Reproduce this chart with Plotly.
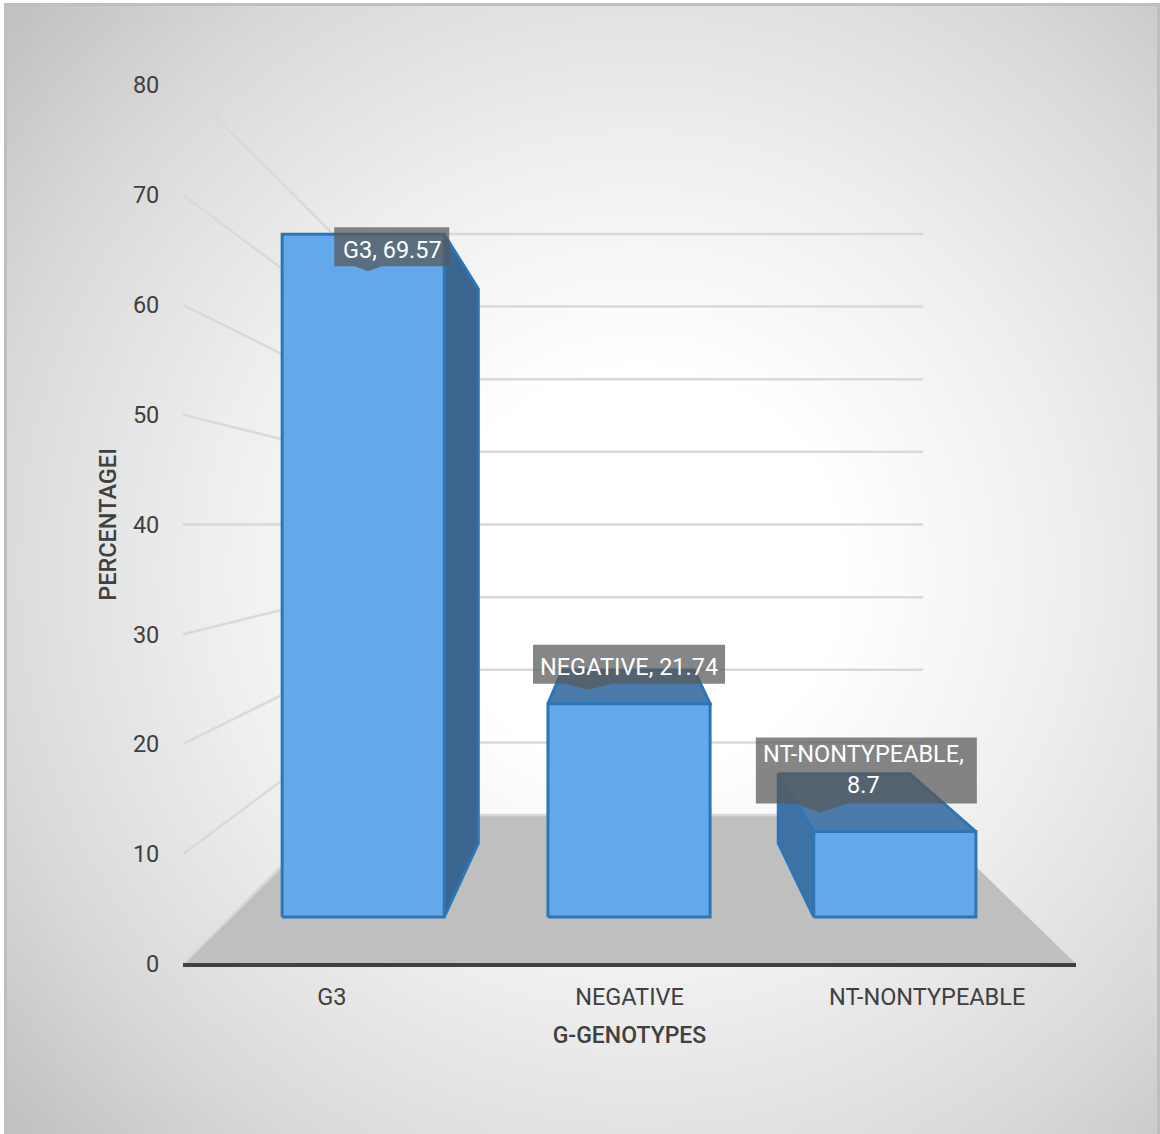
import numpy as np
import plotly.graph_objects as go

# Percentage of each G-genotype
categories = ["G3", "NEGATIVE", "NT-NONTYPEABLE"]
values = [69.57, 21.74, 8.7]
y_ticks = [0, 10, 20, 30, 40, 50, 60, 70, 80]

W, H = 1160, 1134
TEXT = "#404040"
FONT = "Roboto"

# Plot frame of the front plane, in pixels
LEFT, RIGHT, ZERO, TOP = 183, 1076, 964, 85
PX_X = (RIGHT - LEFT) / 3.0
PX_Y = (ZERO - TOP) / 80.0

# Perspective: depth scale of each plane, converging on the eye point
EYE_X, EYE_Y = 0.985, 40.0
S_FRONT, S_BAR_FRONT, S_BAR_BACK, S_WALL = 1.0, 0.893, 0.725, 0.661
BAR_HALF = 0.305


def project(x, v, s):
    """Map a category position and value at depth scale s onto the front axes."""
    return EYE_X + (x - EYE_X) * s, EYE_Y + (v - EYE_Y) * s


def poly(points, fill, line=None, width=0.0):
    pts = list(points) + [points[0]]
    return go.Scatter(
        x=[p[0] for p in pts], y=[p[1] for p in pts],
        mode="lines", fill="toself", fillcolor=fill,
        line=dict(color=line or "rgba(0,0,0,0)", width=width),
        xaxis="x2", yaxis="y2", hoverinfo="skip", showlegend=False, cliponaxis=False,
    )


fig = go.Figure()

# Radial backdrop filling the frame
NX, NY = 80, 80
cell_x = (1158 - 6) / NX
cell_y = (1134 - 6) / NY
gx = 6 + cell_x * (np.arange(NX) + 0.5)
gy = 6 + cell_y * (np.arange(NY) + 0.5)
xx, yy = np.meshgrid(gx, gy)
rr = np.hypot(xx - 640, yy - 570)
shade = np.interp(rr, [0, 200, 434, 658, 860], [255, 255, 238, 217, 190])
fig.add_trace(go.Heatmap(
    x=gx, y=gy, z=shade, zmin=0, zmax=255, zsmooth="best",
    colorscale=[[0, "#000000"], [1, "#ffffff"]], showscale=False, hoverinfo="skip",
    xaxis="x", yaxis="y",
))

# Floor
floor = [project(-0.5, 0, S_FRONT), project(-0.5, 0, S_WALL),
         project(2.5, 0, S_WALL), project(2.5, 0, S_FRONT)]
fig.add_trace(poly(floor, "#bfbfbf"))

# Gridlines on the side wall and the back wall
for t in y_ticks:
    a = project(-0.5, t, S_FRONT)
    b = project(-0.5, t, S_WALL)
    c = project(2.5, t, S_WALL)
    fig.add_trace(go.Scatter(
        x=[a[0], b[0], c[0]], y=[a[1], b[1], c[1]], mode="lines",
        line=dict(color="#d9d9d9", width=2.5),
        xaxis="x2", yaxis="y2", hoverinfo="skip", showlegend=False, cliponaxis=False,
    ))

# Bars: visible side and top first, then the front face
EDGE = "#2e75b6"
for i, v in enumerate(values):
    l, r = i - BAR_HALF, i + BAR_HALF
    fl = project(l, v, S_BAR_FRONT)
    fr = project(r, v, S_BAR_FRONT)
    bl = project(l, v, S_BAR_BACK)
    br = project(r, v, S_BAR_BACK)
    fl0 = project(l, 0, S_BAR_FRONT)
    fr0 = project(r, 0, S_BAR_FRONT)
    bl0 = project(l, 0, S_BAR_BACK)
    br0 = project(r, 0, S_BAR_BACK)
    if r < EYE_X:
        fig.add_trace(poly([fr, br, br0, fr0], "#3a668f", EDGE, 3))
    if l > EYE_X:
        fig.add_trace(poly([fl, bl, bl0, fl0], "#3f72a4", EDGE, 3))
    if v < EYE_Y:
        fig.add_trace(poly([fl, bl, br, fr], "#4a7bab", EDGE, 3))
    fig.add_trace(poly([fl0, fl, fr, fr0], "#62a8ea", EDGE, 3))

# Value callouts, placed relative to the top of each bar (offsets in pixels)
label_box = [(-29, -7, 86, 32), (-96, -59, 96, -20), (-139, -94, 82, -28)]
label_tip = [(4.7, 37), (-41, -14), (-75, -19)]
label_base = [(13, 14), (23, 24), (24, 28)]
label_text = ["G3, 69.57", "NEGATIVE, 21.74", "NT-NONTYPEABLE,<br>8.7"]
label_nudge = [(1, -3), (0, -3), (-3, 1)]
annotations = []
for i, v in enumerate(values):
    ax, ay = project(i, v, S_BAR_FRONT)

    def off(dx, dy):
        return ax + dx / PX_X, ay - dy / PX_Y

    x0, y0, x1, y1 = label_box[i]
    tx, ty = label_tip[i]
    bl_, br_ = label_base[i]
    outline = [off(x0, y0), off(x1, y0), off(x1, y1), off(tx + br_, y1),
               off(tx, ty), off(tx - bl_, y1), off(x0, y1)]
    fig.add_trace(poly(outline, "rgba(89,89,89,0.73)"))
    cx, cy = off((x0 + x1) / 2, (y0 + y1) / 2)
    annotations.append(dict(
        x=cx, y=cy, xref="x2", yref="y2", text=label_text[i], showarrow=False,
        xshift=label_nudge[i][0], yshift=label_nudge[i][1],
        font=dict(family=FONT, size=23.5, color="#ffffff"),
        xanchor="center", yanchor="middle", align="center",
    ))

fig.update_layout(
    width=W, height=H, autosize=False,
    margin=dict(l=0, r=0, t=0, b=0, pad=0, autoexpand=False),
    paper_bgcolor="#ffffff", plot_bgcolor="rgba(0,0,0,0)",
    font=dict(family=FONT, color=TEXT),
    showlegend=False,
    annotations=annotations,
    xaxis=dict(domain=[0, 1], range=[0, W], visible=False, fixedrange=True, automargin=False),
    yaxis=dict(domain=[0, 1], range=[H, 0], visible=False, fixedrange=True, automargin=False),
    xaxis2=dict(
        domain=[LEFT / W, RIGHT / W], range=[-0.5, 2.5], anchor="y2", automargin=False,
        tickmode="array", tickvals=[0, 1, 2], ticktext=categories,
        showgrid=False, zeroline=False, showline=False,
        ticks="outside", ticklen=12, tickcolor="rgba(0,0,0,0)",
        tickfont=dict(family=FONT, size=23.5, color=TEXT),
        title=dict(text="G-GENOTYPES", standoff=16,
                   font=dict(family=FONT, size=23, color=TEXT, weight=500)),
    ),
    yaxis2=dict(
        domain=[(H - ZERO) / H, (H - TOP) / H], range=[0, 80], anchor="x2", automargin=False,
        tickmode="array", tickvals=y_ticks,
        showgrid=False, zeroline=False, showline=False,
        ticks="outside", ticklen=18, tickcolor="rgba(0,0,0,0)",
        tickfont=dict(family=FONT, size=23.5, color=TEXT),
        title=dict(text="PERCENTAGEI", standoff=9,
                   font=dict(family=FONT, size=23.5, color=TEXT, weight=500)),
    ),
    shapes=[
        # Outer frame, open along the bottom edge of the page
        dict(type="rect", xref="paper", yref="paper", x0=5.5 / W, x1=1158.5 / W,
             y0=-0.01, y1=1 - 4.5 / H,
             line=dict(color="#bfbfbf", width=3), layer="above"),
        # Category axis line along the front edge of the floor
        dict(type="line", xref="x2", yref="paper", x0=-0.5, x1=2.5,
             y0=(H - ZERO - 1) / H, y1=(H - ZERO - 1) / H,
             line=dict(color=TEXT, width=4), layer="above"),
    ],
)

fig.write_html("out.html")
